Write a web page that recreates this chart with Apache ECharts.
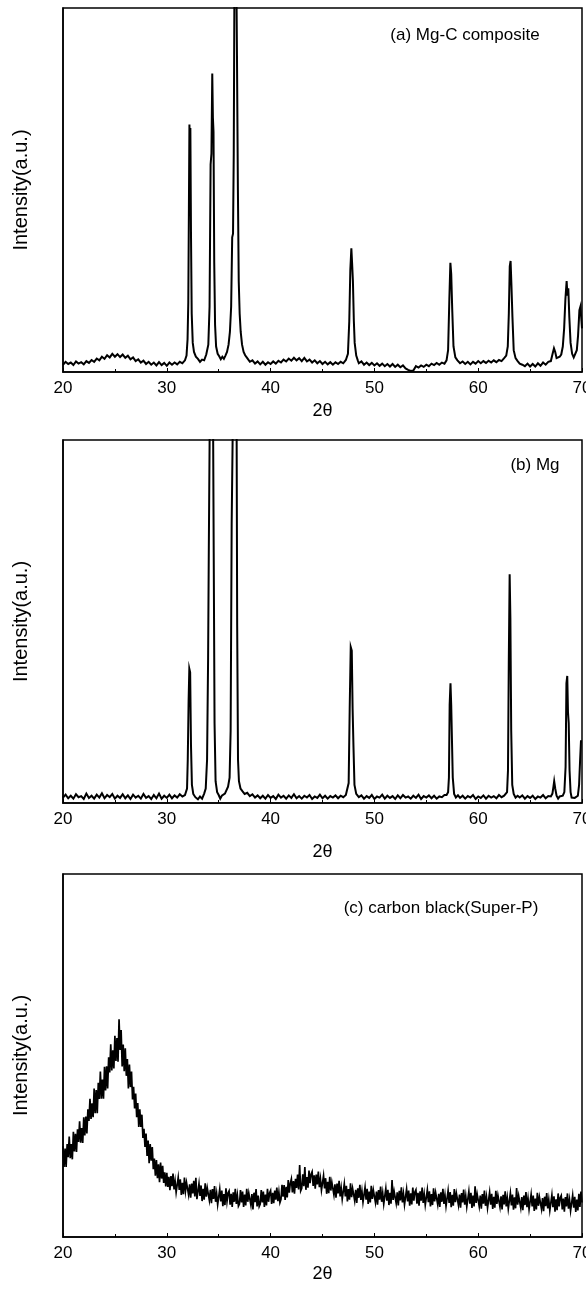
<!DOCTYPE html>
<html>
<head>
<meta charset="utf-8">
<script src="https://cdn.jsdelivr.net/npm/echarts@6/dist/echarts.min.js"></script>
<style>html,body{margin:0;padding:0;background:#fff}#c{width:586px;height:1290px}</style>
</head>
<body>
<div id="c"></div>
<script>
// ---- DATA ----
const xTicks = [20, 30, 40, 50, 60, 70];
const panelLabels = ['(a) Mg-C composite', '(b) Mg', '(c) carbon black(Super-P)'];
const xName = '2\u03b8';
const yName = 'Intensity(a.u.)';

// (a) Mg-C composite: [2theta, intensity (% of plot height)]
const mgC = [
[20.0,2.0],[20.25,2.8],[20.5,2.2],[20.75,2.6],[21.0,1.9],[21.25,2.9],[21.5,2.3],[21.75,2.7],[22.0,2.1],[22.25,3.0],[22.5,2.5],[22.75,3.3],[23.0,2.8],[23.25,3.7],[23.5,3.2],[23.75,4.2],[24.0,3.6],[24.25,4.6],[24.5,4.0],[24.75,5.0],[25.0,4.2],[25.25,4.9],[25.5,4.1],[25.75,4.8],[26.0,3.9],[26.25,4.5],[26.5,3.5],[26.75,4.0],[27.0,3.0],[27.25,3.5],[27.5,2.6],[27.75,3.1],[28.0,2.2],[28.25,2.8],[28.5,2.0],[28.75,2.6],[29.0,1.8],[29.25,2.7],[29.5,1.9],[29.75,2.5],[30.0,1.7],[30.25,2.6],[30.5,2.0],[30.75,2.6],[31.0,2.1],[31.25,2.8],[31.5,2.4],[31.75,3.2],
[31.9,4.5],[32.0,9],[32.07,19],[32.13,45],[32.18,68],[32.23,60],[32.27,67],[32.33,38],[32.4,16],[32.5,8],[32.62,5.5],[32.8,4.2],[33.0,3.6],[33.2,2.8],[33.4,3.4],[33.6,3.2],[33.8,4.8],[34.0,7.5],[34.12,18],[34.22,57],[34.3,60],[34.38,82],[34.44,70],[34.5,66],[34.57,30],[34.65,13],[34.75,7],[34.9,5],[35.05,4.3],[35.2,3.5],[35.35,4.2],[35.5,3.6],[35.65,4.5],[35.8,5.5],[35.95,7.5],[36.08,11],[36.2,18],[36.3,37],[36.38,38],[36.45,60],[36.52,110],[36.62,120],[36.7,110],[36.76,87],[36.85,50],[36.93,25],[37.02,16],[37.12,11],[37.25,7.5],[37.4,5.5],[37.55,4.6],
[37.75,3.8],[38.0,2.8],[38.25,3.2],[38.5,2.3],[38.75,2.9],[39.0,2.1],[39.25,2.8],[39.5,2.0],[39.75,2.7],[40.0,2.2],[40.25,2.9],[40.5,2.3],[40.75,3.1],[41.0,2.6],[41.25,3.4],[41.5,2.9],[41.75,3.7],[42.0,3.1],[42.25,3.9],[42.5,3.2],[42.75,3.8],[43.0,3.0],[43.25,3.9],[43.5,2.9],[43.75,3.4],[44.0,2.6],[44.25,3.2],[44.5,2.4],[44.75,3.0],[45.0,2.2],[45.25,2.8],[45.5,2.1],[45.75,2.7],[46.0,2.0],[46.25,2.7],[46.5,2.2],[46.75,2.8],[47.0,2.4],[47.25,3.3],
[47.45,5],[47.58,14],[47.68,28],[47.78,34],[47.85,30],[47.93,25],[48.02,14],[48.1,8],[48.25,4.5],[48.4,3.2],
[48.5,2.4],[48.75,2.9],[49.0,2.0],[49.25,2.6],[49.5,1.9],[49.75,2.5],[50.0,1.8],[50.25,2.4],[50.5,1.7],[50.75,2.3],[51.0,1.6],[51.25,2.2],[51.5,1.5],[51.75,2.2],[52.0,1.4],[52.25,2.0],[52.5,1.3],[52.75,1.8],[53.0,1.0],[53.25,0.6],[53.5,0.3],[53.75,0.4],[54.0,1.6],[54.25,1.2],[54.5,1.8],[54.75,1.4],[55.0,2.0],[55.25,1.6],[55.5,2.3],[55.75,1.9],[56.0,2.5],[56.25,2.0],[56.5,2.6],[56.75,2.3],
[56.95,3.2],[57.1,6],[57.22,20],[57.32,30],[57.4,27],[57.5,17],[57.62,7],[57.8,4],[58.0,3.2],
[58.25,2.4],[58.5,2.9],[58.75,2.2],[59.0,2.8],[59.25,2.1],[59.5,2.8],[59.75,2.3],[60.0,3.0],[60.25,2.4],[60.5,3.0],[60.75,2.5],[61.0,3.1],[61.25,2.6],[61.5,3.2],[61.75,2.7],[62.0,3.3],[62.25,3.0],[62.5,3.8],
[62.7,4.5],[62.85,7],[62.95,16],[63.04,29],[63.12,30.5],[63.2,24],[63.3,15],[63.42,6],[63.6,3.8],[63.8,3.0],
[64.0,2.3],[64.25,2.0],[64.5,1.6],[64.75,2.3],[65.0,1.5],[65.25,2.2],[65.5,1.5],[65.75,2.4],[66.0,1.7],[66.25,2.6],[66.5,2.0],[66.75,2.8],
[67.0,3.0],[67.15,4.8],[67.3,6.5],[67.42,5.5],[67.55,3.8],[67.7,3.5],[67.85,4.2],[68.0,4.8],[68.15,7],[68.28,12],[68.4,20],[68.52,25],[68.6,21],[68.68,23],[68.78,15],[68.9,8],[69.05,5],[69.2,4.0],[69.35,4.3],[69.5,6],[69.62,10],[69.75,17],[69.85,18],[69.95,14],[70.0,12]
];

// (b) Mg
const mg = [
[20.0,1.5],[20.25,2.3],[20.5,1.3],[20.75,2.0],[21.0,1.2],[21.25,2.4],[21.5,1.6],[21.75,1.9],[22.0,1.1],[22.25,2.6],[22.5,1.4],[22.75,2.0],[23.0,1.2],[23.25,2.3],[23.5,1.5],[23.75,2.7],[24.0,1.3],[24.25,2.2],[24.5,1.6],[24.75,2.5],[25.0,1.2],[25.25,2.0],[25.5,1.4],[25.75,2.4],[26.0,1.3],[26.25,2.1],[26.5,1.1],[26.75,2.3],[27.0,1.5],[27.25,2.0],[27.5,1.2],[27.75,2.5],[28.0,1.4],[28.25,1.9],[28.5,1.1],[28.75,2.2],[29.0,1.3],[29.25,2.6],[29.5,1.2],[29.75,2.0],[30.0,1.4],[30.25,2.3],[30.5,1.3],[30.75,2.1],[31.0,1.5],[31.25,2.4],[31.5,1.8],[31.75,2.2],
[31.85,2.5],[31.95,4],[32.02,12],[32.1,28],[32.17,37],[32.25,36],[32.33,16],[32.42,5],[32.55,2.5],[32.75,1.6],[33.0,1.0],[33.2,1.8],[33.4,1.2],[33.6,2.6],[33.75,4],[33.88,12],[33.98,40],[34.05,71],[34.15,110],[34.3,120],[34.45,110],[34.52,69],[34.6,22],[34.7,6],[34.85,3],[35.0,2.2],[35.15,1.2],[35.3,2.0],[35.45,1.5],[35.6,2.6],[35.75,3.0],[35.9,4.5],[36.05,7],[36.15,20],[36.25,77],[36.4,115],[36.6,120],[36.72,110],[36.78,49],[36.86,12],[36.95,6],[37.1,4],[37.3,3.2],[37.5,2.5],
[37.75,2.8],[38.0,1.9],[38.25,2.4],[38.5,1.5],[38.75,2.1],[39.0,1.3],[39.25,2.0],[39.5,1.2],[39.75,2.2],[40.0,1.4],[40.25,1.9],[40.5,1.1],[40.75,2.3],[41.0,1.5],[41.25,2.0],[41.5,1.2],[41.75,2.1],[42.0,1.4],[42.25,2.4],[42.5,1.3],[42.75,1.9],[43.0,1.2],[43.25,2.0],[43.5,1.5],[43.75,2.2],[44.0,1.1],[44.25,1.8],[44.5,1.4],[44.75,2.3],[45.0,1.3],[45.25,2.0],[45.5,1.2],[45.75,1.9],[46.0,1.5],[46.25,2.1],[46.5,1.3],[46.75,2.0],[47.0,1.6],[47.25,2.2],
[47.4,2.6],[47.52,5.5],[47.62,26],[47.72,43],[47.82,42],[47.9,26],[47.98,16],[48.08,5],[48.25,2.5],
[48.5,1.6],[48.75,2.1],[49.0,1.2],[49.25,1.9],[49.5,1.4],[49.75,2.2],[50.0,1.1],[50.25,1.8],[50.5,1.5],[50.75,2.3],[51.0,1.2],[51.25,2.0],[51.5,1.4],[51.75,1.9],[52.0,1.1],[52.25,2.1],[52.5,1.3],[52.75,2.2],[53.0,1.5],[53.25,1.8],[53.5,1.2],[53.75,2.0],[54.0,1.4],[54.25,2.3],[54.5,1.1],[54.75,1.9],[55.0,1.5],[55.25,2.1],[55.5,1.3],[55.75,2.0],[56.0,1.2],[56.25,1.8],[56.5,1.6],[56.75,2.2],
[56.95,2.2],[57.1,3],[57.18,7],[57.25,27],[57.33,33],[57.4,27],[57.48,27],[57.55,7],[57.68,2.5],[57.85,1.5],[58.05,2.1],
[58.25,1.4],[58.5,2.0],[58.75,1.2],[59.0,1.9],[59.25,1.5],[59.5,2.2],[59.75,1.1],[60.0,1.8],[60.25,1.4],[60.5,2.1],[60.75,1.2],[61.0,2.0],[61.25,1.5],[61.5,1.9],[61.75,1.3],[62.0,2.2],[62.25,1.6],[62.5,2.0],
[62.65,2.4],[62.78,3],[62.87,9],[62.95,40],[63.03,63],[63.1,51],[63.18,20],[63.28,5],[63.42,2.5],[63.6,1.5],[63.8,2.0],
[64.0,1.5],[64.25,2.1],[64.5,1.2],[64.75,1.9],[65.0,1.4],[65.25,2.0],[65.5,1.1],[65.75,1.8],[66.0,1.5],[66.25,2.2],[66.5,1.3],[66.75,1.9],
[67.0,1.8],[67.15,2.6],[67.25,4.5],[67.32,6],[67.42,4],[67.55,2],[67.7,1.2],[67.85,1.8],[68.0,1.3],[68.15,2.0],[68.3,3.0],[68.42,10],[68.5,33],[68.58,35],[68.65,25],[68.72,22],[68.8,9],[68.9,3],[69.0,1.5],[69.15,1.0],[69.3,1.4],[69.45,1.2],[69.6,2.0],[69.72,5],[69.82,12],[69.9,17],[70.0,17]
];

// (c) carbon black: sampled every 0.1 deg starting at 20.0 (one row per degree)
const carbonStart = 20.0;
const carbonStep = 0.1;
const carbon = [
25,19.3,24.4,19.3,25.6,22,27.7,21.7,25.6,21.4,
29,23.6,28.4,23.4,29.7,26.2,31.9,26,30,25.9,
33,28,33.2,28.5,35.2,32,38.1,32.5,36.8,33,
40.9,34.1,40.5,34.1,42.5,38,45.6,38.1,43.4,38.1,
46.9,40.4,47,40.9,49.5,45.3,53.1,45.9,51.4,46.4,
55.4,48.5,54.8,48.3,60,51.5,57,47,53,45.7,
52,44.4,49,40.9,47.5,41.3,45.6,37.9,41.4,35.4,
39.5,33,36.9,30.3,35.2,30.3,33.7,27.3,29.8,24.8,
28.5,22.3,26.6,20.3,25.6,21,24.8,18.7,21.6,16.9,
21.2,16.2,20,15.1,20.5,16.1,19.6,14.9,17.8,13.9,
17.7,13.8,16.6,12.9,16.8,14,17.5,13.1,15.4,12.3,
12.7,16.4,13,15.9,11.6,14.9,11.8,16.4,12.7,15,
15.5,11.6,14.5,10.8,14.7,12,15.5,11.2,16.3,10.4,
10.9,14.7,11.3,14.2,9.9,13.3,10.3,14.8,11.1,13.5,
14,10.1,13,9.3,13.2,10.5,14,9.7,12,8.9,
9.4,13.2,9.8,12.8,8.5,11.8,8.8,13.4,9.8,12.1,
12.7,8.9,11.9,8.3,12.3,9.7,13.3,9.1,11.5,8.5,
9.1,12.9,9.5,12.5,8.3,11.7,8.7,13.3,9.7,12.1,
12.6,8.8,11.8,7.6,12.2,9.6,13.2,8.4,11.4,8.4,
9.1,12.9,9.5,12.5,8.3,11.7,8.7,13.3,9.7,12.1,
12.8,9.1,12.2,9.3,12.8,10.3,13.6,9.9,12.4,9.5,
10.4,14.4,11.1,14.3,10.2,13.8,10.9,15.7,12.2,14.8,
16,12.3,15.4,11.9,16,13.5,17.2,13.1,19.8,12.7,
13.4,17.3,14,19.3,13,16.5,13.6,18.3,14.8,17.3,
18,14.1,17,13.3,17.2,14.5,18,13.7,16,12.9,
13.2,16.9,13.4,16.2,11.9,15.2,12.1,16.6,12.8,15.1,
15.5,11.6,14.5,10.8,14.7,12,15.5,11.2,13.5,10.4,
10.9,14.7,11.2,14.1,9.8,13.2,10.3,14.8,11,13.4,
13.8,10,13,9.4,13.4,10.8,14.4,10.2,12.6,9.6,
9.9,13.7,10.3,13.3,9.1,12.5,9.5,14.1,10.5,12.9,
13.3,9.5,12.5,8.9,12.9,10.3,13.9,9.7,12.1,9.1,
9.6,13.4,10,13,8.8,12.2,9.2,15.7,10.2,12.6,
13.1,9.3,12.3,8.7,12.7,10.1,13.7,9.5,11.9,8.9,
9.4,13.2,9.8,12.8,8.6,12,9,13.6,10,12.4,
13,9.2,12.2,8.6,12.6,10,13.6,9.4,11.8,8.8,
9.2,13,9.6,12.6,8.4,11.8,8.8,13.4,9.8,12.2,
12.7,8.9,11.9,8.3,12.3,9.7,13.3,9.1,11.5,8.5,
9,12.8,9.4,12.4,8.2,11.6,8.6,13.2,9.6,12,
12.5,8.7,11.7,8.1,12.1,9.5,13.1,8.9,11.3,8.3,
8.8,12.6,9.2,12.2,8,11.4,8.4,14,9.4,11.8,
12.2,8.4,11.4,7.8,11.8,9.2,12.8,8.6,11,8,
8.5,12.3,8.9,11.9,7.7,11.1,8.1,12.7,9.1,11.5,
12,8.2,11.2,7.6,11.6,9,12.6,8.4,10.8,7.8,
8.3,12.1,8.7,11.7,7.5,10.9,7.9,13.5,8.9,11.3,
11.8,8,11,7.4,11.4,8.8,12.4,8.2,10.6,7.6,
8,11.8,8.4,11.4,7.2,10.6,7.6,12.2,8.6,11,
11.5,7.7,10.7,7.1,11.1,8.5,12.1,7.9,10.3,7.3,
7.8,11.6,8.2,11.2,7,10.4,7.4,12,8.4,10.8,
11.4,7.6,10.6,7,11,8.4,12,7.8,10.2,7.2,
7.7,11.5,8.1,11.1,6.9,10.3,7.3,11.9,8.3,12.5,
9.5
];

// ---- CHART ----
const FONT = '"Liberation Sans", Arial, Helvetica, sans-serif';
const carbonData = carbon.map((v, i) => [Number((carbonStart + i * carbonStep).toFixed(2)), v]);
const seriesData = [mgC, mg, carbonData];
const lineWidths = [2.0, 2.0, 1.7];

const grids = [
  {left: 63, right: 4, top: 8, height: 364},
  {left: 63, right: 4, top: 440, height: 363},
  {left: 63, right: 4, top: 874, height: 363}
];
const xNameGaps = [30, 40, 28];
const labelPos = [[465, 35], [535, 465], [441, 908]];

const option = {
  backgroundColor: '#fff',
  animation: false,
  grid: grids.map(g => Object.assign({show: true, borderColor: '#000', borderWidth: 1.5, backgroundColor: 'transparent', outerBoundsMode: 'none', containLabel: false}, g)),
  xAxis: grids.map((g, i) => ({
    gridIndex: i, type: 'value', min: xTicks[0], max: xTicks[xTicks.length - 1], interval: 10,
    name: xName, nameLocation: 'middle', nameGap: xNameGaps[i],
    nameTextStyle: {fontFamily: FONT, fontSize: 18, color: '#000'},
    axisLine: {show: true, onZero: false, lineStyle: {color: '#000', width: 1.5}},
    axisTick: {show: true, inside: true, length: 4, lineStyle: {color: '#000', width: 1}},
    minorTick: {show: true, splitNumber: 2, length: 3, lineStyle: {color: '#000', width: 1}},
    axisLabel: {fontFamily: FONT, fontSize: 17, color: '#000', margin: 8, hideOverlap: false},
    splitLine: {show: false}
  })),
  yAxis: grids.map((g, i) => ({
    gridIndex: i, type: 'value', min: 0, max: 100,
    name: yName, nameLocation: 'middle', nameGap: 32,
    nameTextStyle: {fontFamily: FONT, fontSize: 20, color: '#000'},
    axisLine: {show: true, lineStyle: {color: '#000', width: 1.5}},
    axisTick: {show: false}, axisLabel: {show: false}, splitLine: {show: false}
  })),
  series: seriesData.map((d, i) => ({
    type: 'line', xAxisIndex: i, yAxisIndex: i, data: d, showSymbol: false, symbol: 'none',
    clip: true, lineStyle: {color: '#000', width: lineWidths[i], join: 'miter'}, silent: true
  })),
  graphic: panelLabels.map((t, i) => ({
    type: 'text', x: labelPos[i][0], y: labelPos[i][1],
    style: {text: t, fontFamily: FONT, fontSize: 17, fill: '#000', textAlign: 'center', textVerticalAlign: 'middle'}
  }))
};

const chart = echarts.init(document.getElementById('c'), null, {renderer: 'canvas'});
chart.setOption(option);
</script>
</body>
</html>
